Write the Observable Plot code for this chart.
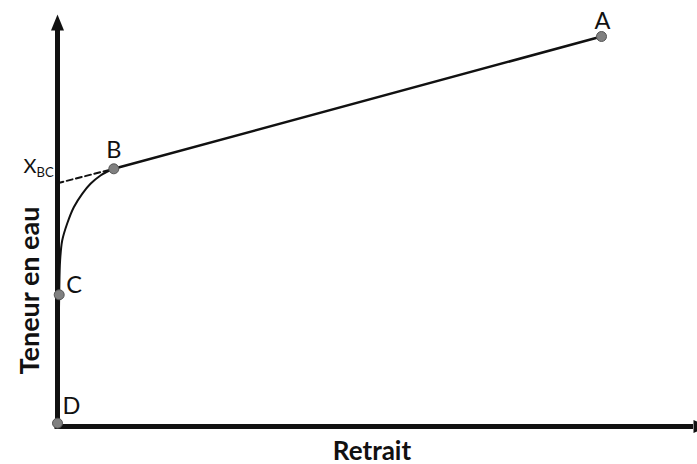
<!DOCTYPE html>
<html>
<head>
<meta charset="utf-8">
<script src="https://cdn.jsdelivr.net/npm/d3@7"></script>
<script src="https://cdn.jsdelivr.net/npm/@observablehq/plot@0.6"></script>
<style>
  html, body { margin: 0; padding: 0; background: #fff; }
  #chart svg { display: block; }
</style>
</head>
<body>
<div id="chart"></div>
<script>
// Labelled key points (x = retrait, y = teneur en eau), arbitrary units
const pointNames = ["A", "B", "C", "D"];
const pointX = [544, 56.3, 1.7, 0];
const pointY = [390, 257.7, 131.7, 3.3];

// Straight segment B -> A
const lineX = [56.3, 544];
const lineY = [257.7, 390];

// Curved segment D -> C -> B
const curveX = [0, 0.3, 0.8, 1.2, 1.7, 2.6, 4.7, 9.7, 16.3, 24.7, 33, 43, 50, 56.3];
const curveY = [3.3, 30, 70, 100, 131.7, 166, 186, 203, 219.3, 232.7, 242.7, 251, 255, 257.7];

// Dashed extrapolation of B-A line to the y axis (X_BC)
const dashX = [0, 56.3];
const dashY = [243.3, 257.7];

// Axis extents and arrow heads
const axisXMax = 636;
const axisYMax = 396;
const axisTitleX = "Retrait";
const axisTitleY = "Teneur en eau";
const tickMain = "X";
const tickSub = "BC";

const pts = pointNames.map((n, i) => ({name: n, x: pointX[i], y: pointY[i]}));
const line = lineX.map((x, i) => ({x, y: lineY[i]}));
const curve = curveX.map((x, i) => ({x, y: curveY[i]}));
const dash = dashX.map((x, i) => ({x, y: dashY[i]}));

const arrowHead = {
  draw(ctx) {
    ctx.moveTo(0, -16);
    ctx.lineTo(6.5, 0);
    ctx.lineTo(-6.5, 0);
    ctx.closePath();
  }
};

const labelOffsets = {
  A: {dx: 1, dy: -8, anchor: "middle"},
  B: {dx: 0, dy: -11, anchor: "middle"},
  C: {dx: 7, dy: -2, anchor: "start"},
  D: {dx: 5, dy: -9, anchor: "start"}
};

const font = "Lato, 'Open Sans', sans-serif";

const plot = Plot.plot({
  width: 697,
  height: 464,
  marginLeft: 57,
  marginRight: 0,
  marginTop: 14,
  marginBottom: 38,
  x: {domain: [0, 640], axis: null},
  y: {domain: [0, 412], axis: null},
  style: {background: "#fff", fontFamily: font},
  marks: [
    // axes
    Plot.ruleY([0], {x1: -2.5, x2: axisXMax, stroke: "#111", strokeWidth: 5}),
    Plot.ruleX([0], {y1: -2.5, y2: axisYMax, stroke: "#111", strokeWidth: 5}),
    Plot.dot([{x: 0, y: axisYMax}], {x: "x", y: "y", symbol: arrowHead, fill: "#111", stroke: null}),
    Plot.dot([{x: axisXMax, y: 0}], {x: "x", y: "y", symbol: arrowHead, rotate: 90, fill: "#111", stroke: null}),
    // curves
    Plot.line(dash, {x: "x", y: "y", stroke: "#111", strokeWidth: 2, strokeDasharray: "6,3.5"}),
    Plot.line(curve, {x: "x", y: "y", stroke: "#111", strokeWidth: 2, curve: "catmull-rom"}),
    Plot.line(line, {x: "x", y: "y", stroke: "#111", strokeWidth: 2.5}),
    // points
    Plot.dot(pts, {x: "x", y: "y", r: 5, fill: "#808080", stroke: "#555", strokeWidth: 1}),
    // point labels
    ...pointNames.map((n) => Plot.text(pts.filter(d => d.name === n), {
      x: "x", y: "y", text: "name",
      dx: labelOffsets[n].dx, dy: labelOffsets[n].dy,
      textAnchor: labelOffsets[n].anchor, lineAnchor: "bottom",
      fontSize: 23.5, fill: "#111", fontFamily: font
    })),
    // X_BC tick label
    Plot.text([dash[0]], {x: "x", y: "y", text: () => tickMain, dx: -21, dy: -10,
      textAnchor: "end", lineAnchor: "bottom", fontSize: 20, fill: "#111", fontFamily: font}),
    Plot.text([dash[0]], {x: "x", y: "y", text: () => tickSub, dx: -21, dy: -6,
      textAnchor: "start", lineAnchor: "bottom", fontSize: 13, fill: "#111", fontFamily: font}),
    // axis titles
    Plot.text([axisTitleX], {x: () => 314.5, y: () => -33, text: d => d, lineAnchor: "bottom",
      fontSize: 26, fontWeight: "bold", fill: "#111", fontFamily: font}),
    Plot.text([axisTitleY], {x: () => -19, y: () => 136, text: d => d, rotate: -90, lineAnchor: "bottom",
      fontSize: 27, fontWeight: "bold", fill: "#111", fontFamily: font})
  ]
});

document.getElementById("chart").appendChild(plot);
</script>
</body>
</html>
